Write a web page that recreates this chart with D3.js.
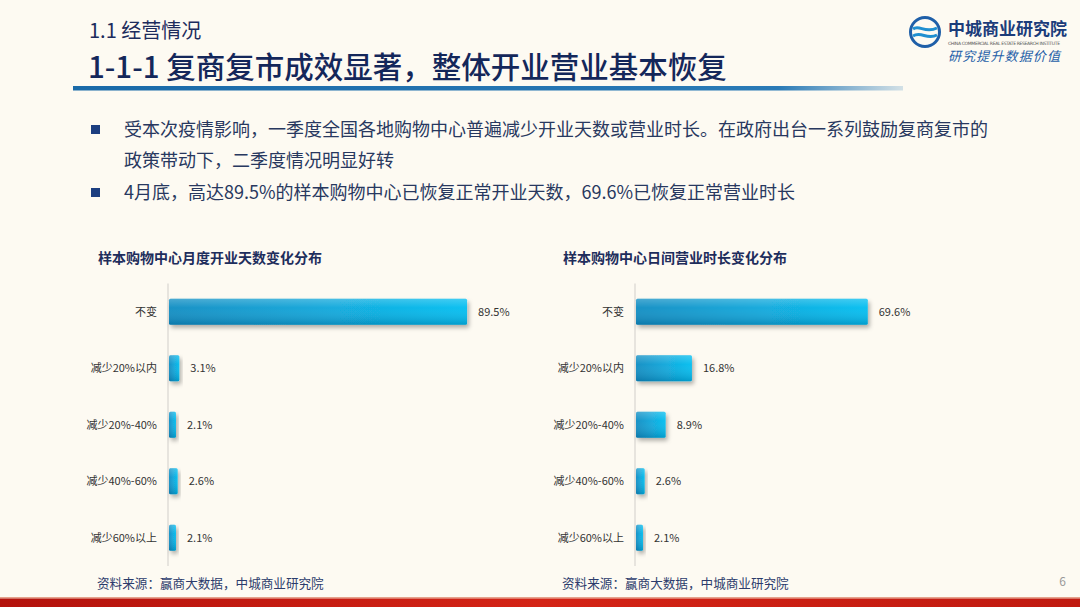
<!DOCTYPE html>
<html><head><meta charset="utf-8">
<script src="https://cdn.jsdelivr.net/npm/d3@7"></script>
<style>
html,body{margin:0;padding:0;background:#fdfaf2;}
svg{display:block;font-family:"Noto Sans CJK SC","Noto Sans",sans-serif;}
</style></head>
<body>
<script>
const categories = ["不变","减少20%以内","减少20%-40%","减少40%-60%","减少60%以上"];
const daysValues = [89.5, 3.1, 2.1, 2.6, 2.1];
const hoursValues = [69.6, 16.8, 8.9, 2.6, 2.1];
const daysTitle = "样本购物中心月度开业天数变化分布";
const hoursTitle = "样本购物中心日间营业时长变化分布";
const sourceText = "资料来源：赢商大数据，中城商业研究院";

const W = 1080, H = 607;
const svg = d3.select("body").append("svg").attr("width", W).attr("height", H);
const defs = svg.append("defs");

// gradients
const bg = defs.append("linearGradient").attr("id","barH").attr("x1","0").attr("x2","1").attr("y1","0").attr("y2","0");
bg.append("stop").attr("offset","0").attr("stop-color","#0b8cc2");
bg.append("stop").attr("offset","1").attr("stop-color","#04bdf0");
const bv = defs.append("linearGradient").attr("id","barV").attr("x1","0").attr("x2","0").attr("y1","0").attr("y2","1");
bv.append("stop").attr("offset","0").attr("stop-color","#ffffff").attr("stop-opacity","0.25");
bv.append("stop").attr("offset","0.35").attr("stop-color","#ffffff").attr("stop-opacity","0.05");
bv.append("stop").attr("offset","1").attr("stop-color","#003a60").attr("stop-opacity","0.25");
const f = defs.append("filter").attr("id","sh").attr("x","-20%").attr("y","-30%").attr("width","150%").attr("height","170%");
f.append("feDropShadow").attr("dx",2).attr("dy",3).attr("stdDeviation",2).attr("flood-color","#000").attr("flood-opacity",0.3);
const rg = defs.append("linearGradient").attr("id","redbar").attr("x1","0").attr("x2","1");
rg.append("stop").attr("offset","0").attr("stop-color","#b3120c");
rg.append("stop").attr("offset","0.5").attr("stop-color","#d42416");
rg.append("stop").attr("offset","1").attr("stop-color","#c01a10");
const bl = defs.append("linearGradient").attr("id","blueline").attr("x1","0").attr("x2","1");
bl.append("stop").attr("offset","0").attr("stop-color","#1a6aa8");
bl.append("stop").attr("offset","0.85").attr("stop-color","#2a7ab6");
bl.append("stop").attr("offset","1").attr("stop-color","#2a7ab6").attr("stop-opacity","0.2");

// header
svg.append("text").attr("x",89).attr("y",38).attr("font-size",20).attr("fill","#1c2b5c").text("1.1  经营情况");
svg.append("text").attr("x",88).attr("y",78).attr("font-size",29.5).attr("font-weight",500).attr("fill","#14275a").text("1-1-1  复商复市成效显著，整体开业营业基本恢复");
svg.append("rect").attr("x",73).attr("y",86).attr("width",830).attr("height",4.5).attr("fill","url(#blueline)");

// logo
const lg = svg.append("g");
lg.append("circle").attr("cx",925).attr("cy",32).attr("r",14.5).attr("fill","none").attr("stroke","#1f5fa8").attr("stroke-width",3);
lg.append("path").attr("d","M913,29 C919,24 925,34 937,28 M913,36 C921,31 927,40 937,35").attr("fill","none").attr("stroke","#1f8fd0").attr("stroke-width",3);
lg.append("text").attr("x",948).attr("y",35).attr("font-size",17).attr("font-weight",700).attr("font-family","'Noto Sans CJK SC',serif").attr("fill","#1b3c7a").text("中城商业研究院");
lg.append("text").attr("x",948).attr("y",45).attr("font-size",4.5).attr("fill","#555").attr("font-family","DejaVu Sans").attr("textLength",112).text("CHINA COMMERCIAL REAL ESTATE RESEARCH INSTITUTE");
lg.append("text").attr("x",948).attr("y",61).attr("font-size",13).attr("font-style","italic").attr("fill","#1f5fa8").attr("textLength",112).text("研究提升数据价值");

// bullets
const bullets = [
  {y:136, bullet:true, t:"受本次疫情影响，一季度全国各地购物中心普遍减少开业天数或营业时长。在政府出台一系列鼓励复商复市的"},
  {y:167, bullet:false, t:"政策带动下，二季度情况明显好转"},
  {y:199, bullet:true, t:"4月底，高达89.5%的样本购物中心已恢复正常开业天数，69.6%已恢复正常营业时长"}
];
bullets.forEach(b=>{
  if(b.bullet) svg.append("rect").attr("x",91).attr("y",b.y-11).attr("width",9).attr("height",9).attr("fill","#1c3e80");
  svg.append("text").attr("x",124).attr("y",b.y).attr("font-size",18).attr("fill","#28385f").text(b.t);
});

// charts
function drawChart(x0, titleX, labelX, values, title){
  const x = d3.scaleLinear().domain([0,100]).range([x0, x0+333]);
  const y = d3.scaleBand().domain(categories).range([283.5,566]).paddingInner(0.54).paddingOuter(0.27);
  svg.append("text").attr("x",titleX).attr("y",263).attr("font-size",14).attr("font-weight",700).attr("fill","#1e2d5c").text(title);
  svg.append("line").attr("x1",x0).attr("x2",x0).attr("y1",y.range()[0]).attr("y2",y.range()[1]).attr("stroke","#d9d6d0").attr("stroke-width",1.2);
  const g = svg.append("g");
  categories.forEach((c,i)=>{
    const v = values[i];
    const w = x(v)-x(0);
    g.append("rect").attr("x",x(0)+1).attr("y",y(c)).attr("width",w).attr("height",y.bandwidth()).attr("rx",1.5).attr("fill","url(#barH)").attr("filter","url(#sh)");
    g.append("rect").attr("x",x(0)+1).attr("y",y(c)).attr("width",w).attr("height",y.bandwidth()).attr("rx",1.5).attr("fill","url(#barV)");
    g.append("text").attr("x",x(v)+12).attr("y",y(c)+y.bandwidth()/2).attr("dy","0.35em").attr("font-size",11).attr("fill","#333").text(v.toFixed(1)+"%");
    g.append("text").attr("x",labelX).attr("y",y(c)+y.bandwidth()/2).attr("dy","0.35em").attr("text-anchor","end").attr("font-size",11).attr("fill","#333").text(c);
  });
  svg.append("text").attr("x",titleX-1).attr("y",588).attr("font-size",12.6).attr("fill","#2c3c6c").text(sourceText);
}
drawChart(168, 98, 157, daysValues, daysTitle);
drawChart(635, 563, 624, hoursValues, hoursTitle);

svg.append("text").attr("x",1066).attr("y",586).attr("text-anchor","end").attr("font-size",12).attr("fill","#999").text("6");

// bottom bar
svg.append("rect").attr("x",0).attr("y",597).attr("width",W).attr("height",1.5).attr("fill","#e6a28c");
svg.append("rect").attr("x",0).attr("y",598.5).attr("width",W).attr("height",9).attr("fill","url(#redbar)");
</script>
</body></html>
